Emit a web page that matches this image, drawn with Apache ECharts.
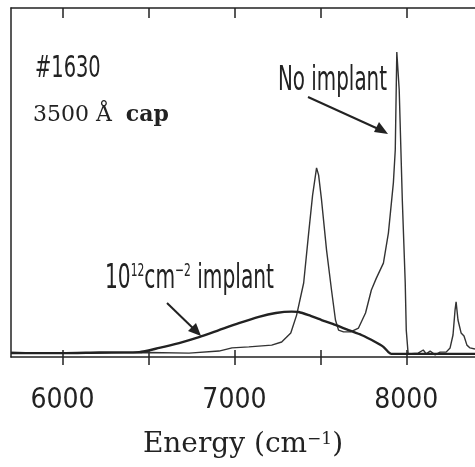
<!DOCTYPE html>
<html><head><meta charset="utf-8">
<script src="https://cdn.jsdelivr.net/npm/echarts@6/dist/echarts.min.js"></script>
<style>html,body{margin:0;padding:0;background:#fff}#c{width:475px;height:467px}</style>
</head><body><div id="c"></div>
<script>
// Energy (cm^-1) and intensity (arb. units)
const noImplantEnergy = [5700,5867,6000,6214,6504,6736,6910,6986,7084,7217,7275,7328,7362,7403,7432,7455,7478,7490,7507,7536,7565,7588,7606,7635,7676,7722,7763,7797,7826,7867,7896,7925,7936,7945,7959,7977,7994,8000,8011,8069,8099,8116,8139,8168,8197,8232,8255,8272,8284,8290,8301,8319,8336,8353,8371,8400];
const noImplantValue  = [1.4,1.1,1.1,1.1,1.3,1.1,1.7,2.6,2.9,3.4,4.3,6.9,12.0,21.2,35.5,46.4,54.2,52.1,45.0,30.7,19.2,10.6,7.7,7.2,7.2,8.3,12.6,19.2,22.6,26.9,35.5,49.9,59.3,87.4,76.5,45.0,21.2,7.7,0.9,1.1,2.0,0.9,1.7,0.6,1.4,1.4,2.6,6.3,13.5,15.8,10.6,6.9,6.0,3.4,2.6,2.3];
const implantEnergy = [5700,6000,6214,6446,6562,6678,6794,6910,7026,7142,7241,7333,7374,7432,7507,7588,7664,7739,7820,7867,7896,7913,8012,8100,8200,8400];
const implantValue  = [1.1,1.1,1.3,1.4,2.6,4.0,5.7,7.7,9.7,11.5,12.6,13.0,12.9,12.0,10.6,9.2,7.7,6.3,4.3,2.9,1.4,0.9,0.9,0.9,0.9,0.9];
const tickValues  = [6000,6500,7000,7500,8000];
const labelValues = [6000,7000,8000];

const narrow = "'DejaVu Sans Condensed','DejaVu Sans',sans-serif";
const serif = "'DejaVu Serif','Liberation Serif',serif";
const ink = '#222';

const chart = echarts.init(document.getElementById('c'), null, {renderer:'canvas'});
const xMin = 5700, xMax = 8400;
const baseAxis = {type:'value', min:xMin, max:xMax, splitLine:{show:false}};
chart.setOption({
  animation:false,
  backgroundColor:'#fff',
  grid:{left:11, top:8, width:466, height:349, containLabel:false},
  xAxis:[
    Object.assign({}, baseAxis, {
      position:'bottom',
      axisLine:{show:true, lineStyle:{color:ink, width:1.5}},
      axisTick:{show:true, inside:true, length:7, customValues:tickValues, lineStyle:{color:ink, width:1.5}},
      axisLabel:{show:true, customValues:labelValues, margin:30, color:ink, fontFamily:narrow, fontSize:28,
        formatter:v=>String(v)},
      name:'Energy (cm{sup|−1})', nameLocation:'middle', nameGap:74,
      nameTextStyle:{color:ink, fontFamily:serif, fontSize:28,
        rich:{sup:{fontFamily:serif, fontSize:17, verticalAlign:'top', color:ink}}}
    }),
    Object.assign({}, baseAxis, {
      position:'bottom', offset:0,
      axisLine:{show:false},
      axisTick:{show:true, inside:false, length:8, customValues:tickValues, lineStyle:{color:ink, width:1.5}},
      axisLabel:{show:false}
    }),
    Object.assign({}, baseAxis, {
      position:'top',
      axisLine:{show:true, lineStyle:{color:ink, width:1.5}},
      axisTick:{show:true, inside:true, length:10, customValues:tickValues, lineStyle:{color:ink, width:1.5}},
      axisLabel:{show:false}
    })
  ],
  yAxis:{type:'value', min:0, max:100, axisLine:{show:true, lineStyle:{color:ink, width:1.5}},
    axisTick:{show:false}, axisLabel:{show:false}, splitLine:{show:false}},
  series:[
    {type:'line', name:'No implant', showSymbol:false, xAxisIndex:0,
     data:noImplantEnergy.map((e,i)=>[e,noImplantValue[i]]),
     lineStyle:{color:'#333', width:1.4}},
    {type:'line', name:'10^12 cm^-2 implant', showSymbol:false, xAxisIndex:0, smooth:0.2,
     data:implantEnergy.map((e,i)=>[e,implantValue[i]]),
     lineStyle:{color:'#222', width:2.4}}
  ],
  graphic:[
    {type:'text', x:35, y:54, scaleX:0.72, style:{text:'#1630', font:"30px "+narrow, fill:ink}},
    {type:'text', left:33, top:104, style:{text:'{n|3500 Å}{g|  }{b|cap}', fill:ink,
      rich:{n:{font:"22px "+serif, fill:ink}, g:{font:"22px "+serif}, b:{font:"bold 22px "+serif, fill:ink}}}},
    {type:'text', x:278, y:64, scaleX:0.65, style:{text:'No implant', font:"34px "+narrow, fill:ink}},
    {type:'line', shape:{x1:308, y1:97, x2:385, y2:132}, style:{stroke:ink, lineWidth:2}},
    {type:'polygon', shape:{points:[[388,134],[374,132],[379,122]]}, style:{fill:ink}},
    {type:'text', x:105, y:262, scaleX:0.66, style:{text:'{a|10}{s|12}{a|cm}{s|−2}{a| implant}', fill:ink,
      rich:{a:{font:"34px "+narrow, fill:ink}, s:{font:"18px "+narrow, fill:ink, verticalAlign:'top'}}}},
    {type:'line', shape:{x1:167, y1:303, x2:198, y2:333}, style:{stroke:ink, lineWidth:2}},
    {type:'polygon', shape:{points:[[201,336],[188,331],[196,323]]}, style:{fill:ink}}
  ]
});
</script></body></html>
